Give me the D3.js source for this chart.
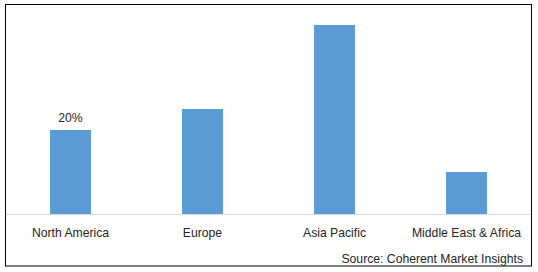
<!DOCTYPE html>
<html><head><meta charset="utf-8">
<script src="https://cdn.jsdelivr.net/npm/d3@7"></script>
<style>body{margin:0;background:#fff}svg{display:block}</style>
</head><body>
<script>
const categories = ["North America", "Europe", "Asia Pacific", "Middle East & Africa"];
const values = [20, 25, 45, 10];
const labels = ["20%", "", "", ""];
const source = "Source: Coherent Market Insights";

const W = 538, H = 272;
const svg = d3.select("body").append("svg").attr("width", W).attr("height", H);
svg.append("rect").attr("x", 5.5).attr("y", 4.5).attr("width", 526).attr("height", 261.5)
  .attr("fill", "#fff").attr("stroke", "#000").attr("stroke-width", 1);

const x = d3.scaleBand().domain(categories).range([4.5, 532.5]).paddingInner(0.69).paddingOuter(0.345);
const y = d3.scaleLinear().domain([0, 50]).range([214, 4]);

svg.selectAll("rect.bar").data(values).join("rect").attr("class", "bar")
  .attr("x", (d, i) => x(categories[i])).attr("width", x.bandwidth())
  .attr("y", d => y(d)).attr("height", d => y(0) - y(d)).attr("fill", "#5b9bd5");

svg.append("line").attr("x1", 6).attr("x2", 531).attr("y1", 214.5).attr("y2", 214.5)
  .attr("stroke", "#d9d9d9").attr("stroke-width", 1);

const font = "'Liberation Sans', Arial, sans-serif";
const fs = 12.2;
const xAxis = d3.axisBottom(x).tickSize(0).tickPadding(0);
const ag = svg.append("g").attr("transform", "translate(0,214)").call(xAxis);
ag.select(".domain").remove();
ag.selectAll("text").attr("dy", null).attr("y", 22.5).attr("font-family", font).attr("font-size", fs).attr("fill", "#262626");

svg.selectAll("text.lbl").data(values).join("text").attr("class", "lbl")
  .attr("x", (d, i) => x(categories[i]) + x.bandwidth() / 2).attr("y", d => y(d) - 8.5)
  .attr("text-anchor", "middle").attr("font-family", font).attr("font-size", fs).attr("fill", "#262626")
  .text((d, i) => labels[i]);

svg.append("text").attr("x", 523).attr("y", 262.5).attr("text-anchor", "end")
  .attr("font-family", font).attr("font-size", fs).attr("fill", "#262626").text(source);
</script>
</body></html>
